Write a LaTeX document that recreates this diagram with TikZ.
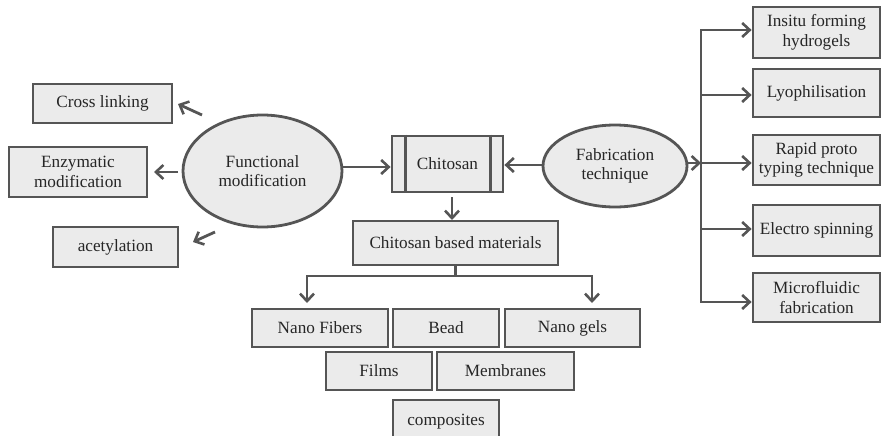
\documentclass[tikz,border=0pt]{standalone}
\usepackage{fontspec}
\setmainfont{Liberation Serif}
\usetikzlibrary{arrows.meta,shapes.geometric,calc}
\definecolor{edge}{HTML}{555555}
\definecolor{boxfill}{HTML}{EBEBEB}
\definecolor{ink}{HTML}{262626}
\tikzset{
  base/.style={draw=edge, fill=boxfill, line width=2.8pt, text=ink,
    font=\fontsize{17.2}{19.5}\selectfont, align=center, inner sep=0pt},
  box/.style={base, rectangle, minimum width=#1},
  oval/.style={base, ellipse},
  link/.style={draw=edge, line width=2.8pt,
    -{Straight Barb[length=7.5pt,width=14pt,line width=2.6pt]}},
  plain/.style={draw=edge, line width=2.8pt}
}
\begin{document}
\begin{tikzpicture}[x=1pt,y=-1pt]
\clip (0,0) rectangle (883,436);

% modification side
\node[box=139pt, minimum height=39pt] (cross) at (102.5,103.5) {Cross linking};
\node[box=138pt, minimum height=50pt] (enzy) at (78,172) {Enzymatic\\modification};
\node[box=125pt, minimum height=40pt] (acet) at (115.5,247) {acetylation};
\node[oval, minimum width=159pt, minimum height=112pt] (func) at (262.5,171) {Functional\\modification};

% central material
\node[box=111pt, minimum height=56pt] (chit) at (447.5,164) {Chitosan};
\draw[plain] ($(chit.north west)+(15,0)$) -- ($(chit.south west)+(15,0)$);
\draw[plain] ($(chit.north east)+(-14,0)$) -- ($(chit.south east)+(-14,0)$);
\node[oval, minimum width=144pt, minimum height=82pt] (fab) at (615,166) {Fabrication\\technique};
\node[box=205pt, minimum height=44pt] (cbm) at (455.5,243) {Chitosan based materials};

% material forms
\node[box=136pt, minimum height=38pt] (fib) at (320,328) {Nano Fibers};
\node[box=106pt, minimum height=38pt] (bead) at (446,328) {Bead};
\node[box=135pt, minimum height=38pt] (gels) at (572.5,328) {Nano gels};
\node[box=106pt, minimum height=38pt] (films) at (379,371) {Films};
\node[box=137pt, minimum height=38pt] (memb) at (505.5,371) {Membranes};
\node[box=106pt, minimum height=44pt] (comp) at (446,422) {composites};

% fabrication techniques
\node[box=127pt, minimum height=51pt] (insitu) at (816.5,32.5) {Insitu forming\\hydrogels};
\node[box=127pt, minimum height=48pt] (lyo) at (816.5,93) {Lyophilisation};
\node[box=127pt, minimum height=50pt] (rapid) at (816.5,160) {Rapid proto\\typing technique};
\node[box=127pt, minimum height=51pt] (elec) at (816.5,230.5) {Electro spinning};
\node[box=127pt, minimum height=49pt] (micro) at (816.5,297.5) {Microfluidic\\fabrication};

% arrows from functional modification
\coordinate (fa) at (202,115);
\coordinate (fb) at (178,172);
\coordinate (fc) at (215,232);
\draw[link] (fa) -- (178,104);
\draw[link] (fb) -- (enzy.east -| 154,0);
\draw[link] (fc) -- (193,242);

% into and out of chitosan
\draw[link] (func.east |- 0,167) -- (chit.west |- 0,167);
\draw[link] (fab.west |- 0,165) -- (chit.east |- 0,165);
\draw[link] (452,197) -- (452,220);

% branching to material forms
\coordinate (bl) at (307,276);
\coordinate (br) at (592,276);
\draw[plain] (cbm.south) -- (cbm.south |- bl);
\draw[plain,line cap=rect] (bl) -- (br);
\draw[link] (bl) -- (307,303);
\draw[link] (br) -- (592,303);

% trunk to fabrication techniques
\coordinate (t1) at (701,30);
\coordinate (t2) at (701,95);
\coordinate (t3) at (701,163);
\coordinate (t4) at (701,229);
\coordinate (t5) at (701,302);
\draw[plain,line cap=rect] (t1) -- (t5);
\draw[link] (fab.east |- t3) -- (t3);
\draw[link] (t1) -- (t1 -| insitu.west);
\draw[link] (t2) -- (t2 -| lyo.west);
\draw[link] (t3) -- (t3 -| rapid.west);
\draw[link] (t4) -- (t4 -| elec.west);
\draw[link] (t5) -- (t5 -| micro.west);
\end{tikzpicture}
\end{document}
